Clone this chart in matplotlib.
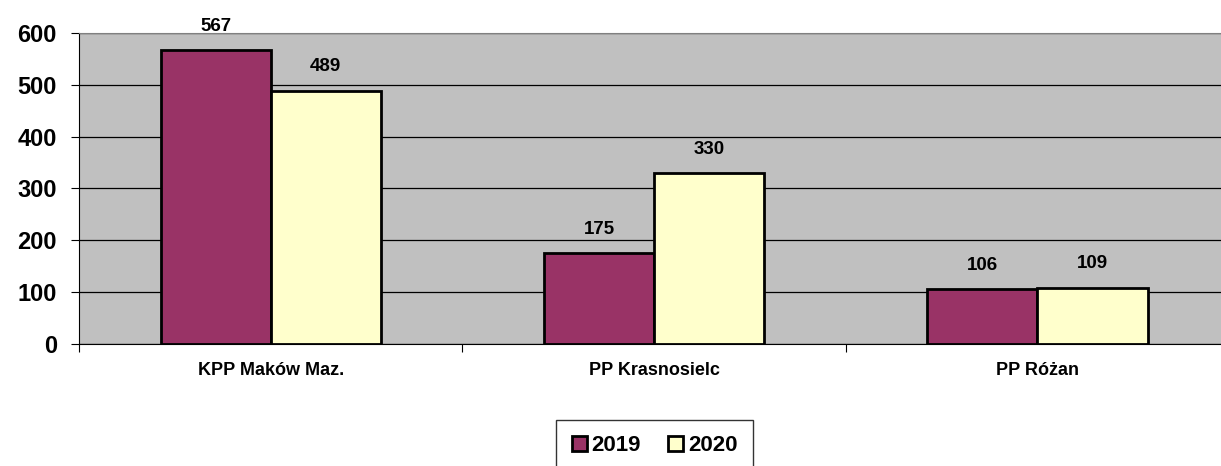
import numpy as np
import matplotlib
matplotlib.use('Agg')
import matplotlib.pyplot as plt

plt.rcParams['font.family'] = ['Liberation Sans', 'DejaVu Sans']

categories = ['KPP Maków Maz.', 'PP Krasnosielc', 'PP Różan']
values_2019 = [567, 175, 106]
values_2020 = [489, 330, 109]
years = ['2019', '2020']

COLORS = {'2019': '#993366', '2020': '#FFFFCC', 'bg': '#C0C0C0'}

fig = plt.figure(figsize=(12.21, 4.66), dpi=100)
ax = fig.add_axes([0.0647, 0.2618, 0.942, 0.6674])
ax.set_facecolor(COLORS['bg'])

x = np.arange(len(categories))
w = 0.287
b1 = ax.bar(x - w / 2, values_2019, w, color=COLORS['2019'], edgecolor='black',
            linewidth=2, label=years[0], zorder=3)
b2 = ax.bar(x + w / 2, values_2020, w, color=COLORS['2020'], edgecolor='black',
            linewidth=2, label=years[1], zorder=3)

for bars in (b1, b2):
    for bar in bars:
        ax.annotate(f'{int(bar.get_height())}',
                    xy=(bar.get_x() + bar.get_width() / 2, bar.get_height()),
                    xytext=(0, 11), textcoords='offset points',
                    ha='center', va='bottom', fontsize=13.5, fontweight='bold')

ax.set_xlim(-0.5, 2.5)
ax.set_ylim(0, 600)
ax.set_yticks(range(0, 601, 100))
ax.set_yticklabels([str(v) for v in range(0, 601, 100)], fontsize=17, fontweight='bold')
ax.yaxis.grid(True, color='black', lw=0.9, zorder=1)
ax.set_axisbelow(True)

ax.set_xticks([-0.5, 0.5, 1.5, 2.5])
ax.set_xticklabels([])
ax.set_xticks(x, minor=True)
ax.set_xticklabels(categories, minor=True, fontsize=13, fontweight='bold')
ax.tick_params(axis='x', which='minor', length=0, pad=13)
ax.tick_params(axis='x', which='major', length=6, color='black')
ax.tick_params(axis='y', length=6, color='black', pad=10)

ax.spines['right'].set_visible(False)
ax.spines['top'].set_color('#808080')
ax.spines['left'].set_color('black')
ax.spines['bottom'].set_color('black')

leg = fig.legend(handles=[b1, b2], labels=years, loc='upper center',
                 bbox_to_anchor=(0.536, 0.099), ncol=2, frameon=True,
                 fancybox=False, edgecolor='black', borderaxespad=0,
                 prop={'weight': 'bold', 'size': 16}, handlelength=0.7,
                 handleheight=0.7, handletextpad=0.2, columnspacing=1.2,
                 borderpad=0.7)
leg.get_frame().set_linewidth(1)

plt.savefig('out.png', dpi=100)
plt.close()
